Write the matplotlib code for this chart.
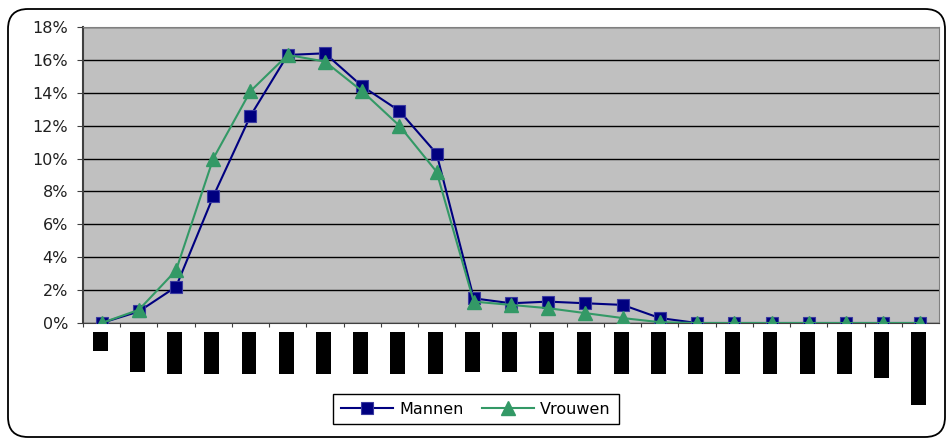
import matplotlib
matplotlib.use("Agg")
import matplotlib.pyplot as plt
import matplotlib.transforms as mtransforms
from matplotlib.patches import FancyBboxPatch, Rectangle

# category positions (labels unreadable in the source: shown as black boxes)
categories = list(range(23))

mannen = [0.0, 0.7, 2.2, 7.7, 12.6, 16.3, 16.4, 14.4, 12.9, 10.3, 1.5, 1.2,
          1.3, 1.2, 1.1, 0.3, 0.0, 0.0, 0.0, 0.0, 0.0, 0.0, 0.0]
vrouwen = [0.0, 0.8, 3.2, 10.0, 14.1, 16.3, 15.9, 14.1, 12.0, 9.2, 1.3, 1.1,
           0.9, 0.6, 0.3, 0.05, 0.0, 0.0, 0.0, 0.0, 0.0, 0.0, 0.0]

# length (px) of the blacked-out category labels
label_len = [19, 40, 42, 42, 42, 42, 42, 42, 42, 42, 40, 40,
             42, 42, 42, 42, 42, 42, 42, 42, 42, 46, 73]

yticks = list(range(0, 19, 2))

W, H, DPI = 949, 440, 100
fig = plt.figure(figsize=(W / DPI, H / DPI), dpi=DPI)
fig.patch.set_facecolor("white")

# rounded outer frame, in pixel coords
frame = FancyBboxPatch((8, 3), 937, 428, boxstyle="round,pad=0,rounding_size=20",
                       transform=mtransforms.IdentityTransform(),
                       facecolor="none", edgecolor="black", linewidth=1.3)
fig.patches.append(frame)

ax = fig.add_axes([83 / W, 1 - 323 / H, 856 / W, 296 / H])
ax.set_facecolor("#c0c0c0")

ax.plot(categories, mannen, color="#000080", lw=1.5, marker="s", ms=9,
        mfc="#000080", mec="#3a3aa0", mew=0.8, label="Mannen", zorder=3)
ax.plot(categories, vrouwen, color="#339966", lw=1.5, marker="^", ms=9.5,
        mfc="#339966", mec="#339966", label="Vrouwen", zorder=4)

ax.set_xlim(-0.5, 22.5)
ax.set_ylim(0, 18)
ax.set_yticks(yticks)
ax.set_yticklabels([f"{v}%" for v in yticks], fontsize=11.5, color="#202020")
ax.yaxis.grid(True, color="black", lw=1)
ax.set_axisbelow(True)

ax.set_xticks([i + 0.5 for i in categories[:-1]] + [-0.5])
ax.set_xticklabels([])
ax.tick_params(axis="x", length=3, color="#404040", direction="out")
ax.tick_params(axis="y", length=4.3, color="#404040", direction="out", pad=6.5)

for side in ["top", "right"]:
    ax.spines[side].set_color("#808080")
ax.spines["left"].set_color("#404040")
ax.spines["left"].set_linewidth(1.5)
ax.spines["bottom"].set_color("#404040")

# black boxes where the category labels should be
px_y = 1 / 296
tr = mtransforms.blended_transform_factory(ax.transData, ax.transAxes)
for x, L in zip(categories, label_len):
    ax.add_patch(Rectangle((x - 0.24, -9 * px_y - L * px_y), 0.40, L * px_y,
                           transform=tr, facecolor="black", edgecolor="none",
                           clip_on=False))

fig.legend(loc="center", bbox_to_anchor=(476 / W, 1 - 409 / H), ncol=2,
           fontsize=11.5, frameon=True, fancybox=False, edgecolor="black",
           framealpha=1, handlelength=3.2, columnspacing=1.2,
           borderpad=0.5, handletextpad=0.4)

fig.savefig("out.png", dpi=DPI, facecolor="white")
